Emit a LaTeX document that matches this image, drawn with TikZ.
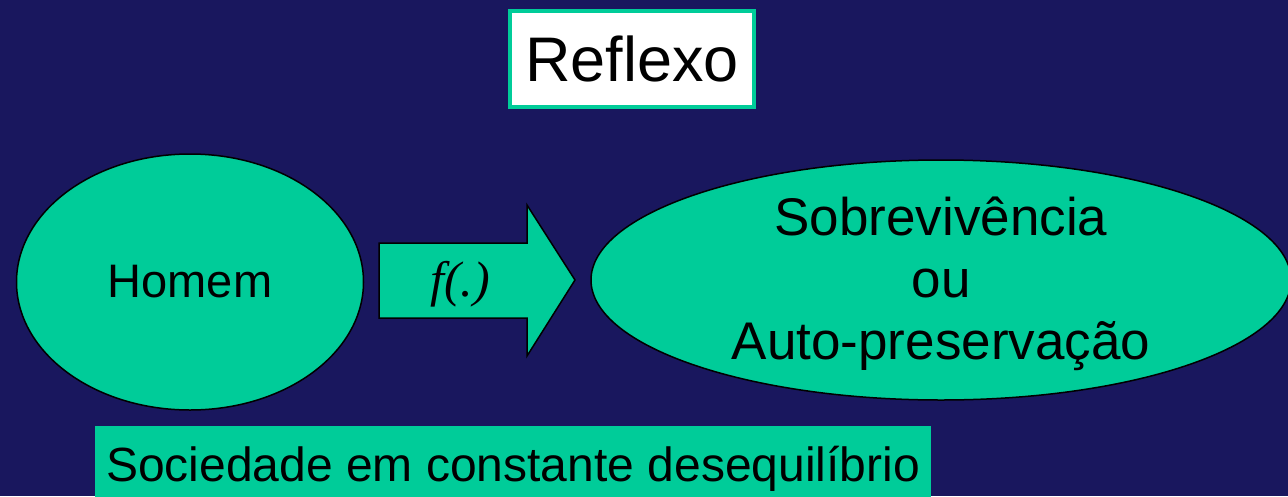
\documentclass[tikz,border=0pt]{standalone}
\usepackage{fontspec}
\setmainfont{Liberation Sans}
\newfontfamily\serifit{Liberation Serif}
\usetikzlibrary{shapes.geometric}
\definecolor{fundo}{RGB}{25,23,94}
\definecolor{verde}{RGB}{0,204,153}

\begin{document}
\begin{tikzpicture}[x=1pt, y=-1pt,
    elipse/.style={ellipse, draw=black, line width=1.5pt, fill=verde, inner sep=0pt,
      align=center, font=\fontsize{47}{61}\selectfont},
    titulo/.style={draw=verde, line width=4pt, fill=white, minimum width=244pt,
      minimum height=96pt, font=\fontsize{63}{70}\selectfont},
    faixa/.style={fill=verde, minimum width=836pt, minimum height=86pt,
      font=\fontsize{48}{58}\selectfont},
    seta/.style={draw=black, line width=1.5pt, fill=verde}]
  \useasboundingbox[fill=fundo] (0,0) rectangle (1288,496);
  \node[titulo] (reflexo) at (632,59) {Reflexo};
  \node[elipse, minimum width=347pt, minimum height=256pt] (homem) at (190,282) {Homem};
  \node[elipse, minimum width=700pt, minimum height=240pt] (fim) at (941,280) {};
  \node[align=center, font=\fontsize{53}{62}\selectfont] (fimtexto) at (941,284)
    {Sobrevivência\\ou\\Auto-preservação};
  % seta larga entre as elipses
  \draw[seta] (379,243) -- (527,243) -- (527,205) -- (575,280) -- (527,356)
    -- (527,318) -- (379,318) -- cycle;
  \node[font=\serifit\itshape\fontsize{50}{60}\selectfont] (funcao) at (460,284) {f(.)};
  \node[faixa] (sociedade) at (513,469) {Sociedade em constante desequilíbrio};
\end{tikzpicture}
\end{document}
